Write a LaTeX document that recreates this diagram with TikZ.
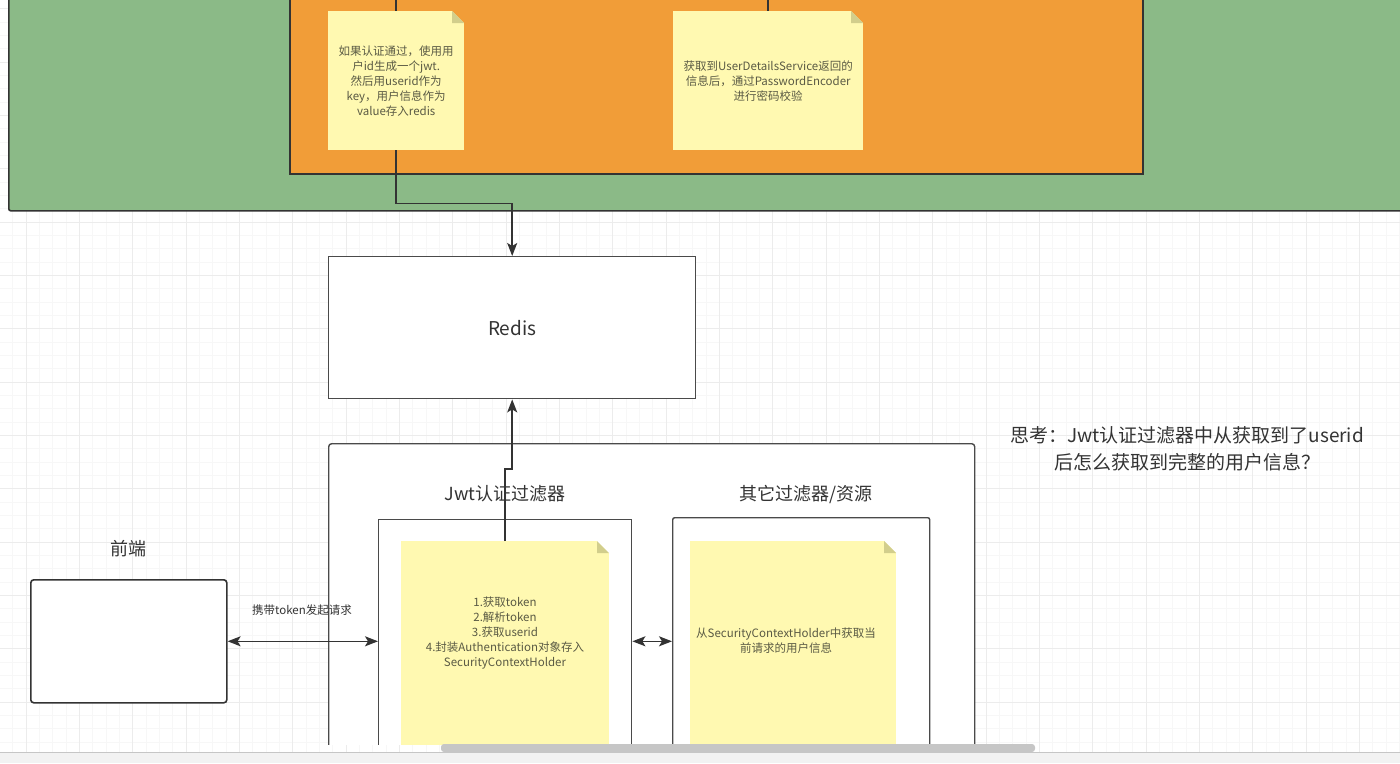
\documentclass[tikz,border=0pt]{standalone}
\usepackage{fontspec}
\setmainfont{Noto Sans CJK SC}
\usepackage{xcolor}
\usetikzlibrary{arrows.meta,positioning}

\definecolor{greenbg}{HTML}{8BBA87}
\definecolor{orangebg}{HTML}{F19D38}
\definecolor{notefill}{HTML}{FFF9B1}
\definecolor{notefold}{HTML}{D2CE8C}
\definecolor{notetext}{HTML}{5A5A44}
\definecolor{darkline}{HTML}{333333}
\definecolor{boxline}{HTML}{4A4A4A}
\definecolor{labeltext}{HTML}{333333}
\definecolor{gridminor}{HTML}{F7F7F7}
\definecolor{gridmajor}{HTML}{ECECEC}
\definecolor{scrollcol}{HTML}{C6C6C6}
\definecolor{stripcol}{HTML}{F2F2F2}

\begin{document}
\begin{tikzpicture}[x=1pt,y=-1pt]
  % Styles
  \tikzset{
    container/.style={rectangle, draw=darkline, line width=1.6pt, anchor=north west,
      inner sep=0pt, rounded corners=2pt},
    box/.style={rectangle, draw=boxline, line width=1.4pt, fill=white, anchor=north west,
      inner sep=0pt},
    note/.style={rectangle, fill=notefill, anchor=north west, inner sep=0pt, align=center,
      text=notetext, font=\fontsize{11.5}{15}\selectfont,
      path picture={
        \fill[#1] ([xshift=-12pt]path picture bounding box.north east)
          -- (path picture bounding box.north east)
          -- ([yshift=-12pt]path picture bounding box.north east) -- cycle;
        \fill[notefold] ([xshift=-12pt]path picture bounding box.north east)
          -- ([xshift=-12pt,yshift=-12pt]path picture bounding box.north east)
          -- ([yshift=-12pt]path picture bounding box.north east) -- cycle;}},
    notelabel/.style={align=center, text=notetext, font=\fontsize{11.5}{15}\selectfont},
    title/.style={text=labeltext, font=\fontsize{18}{22}\selectfont},
    small/.style={text=labeltext, font=\fontsize{11.5}{14}\selectfont},
    line/.style={draw=darkline, line width=1.5pt},
    arrow/.style={line, -{Stealth[length=13pt,width=10pt,inset=3pt]}},
    dblarrow/.style={line, {Stealth[length=13pt,width=10pt,inset=3pt]}-{Stealth[length=13pt,width=10pt,inset=3pt]}}
  }

  \useasboundingbox (0,0) rectangle (1400,763);

  % Grid
  \foreach \i in {0,...,106} {\draw[gridminor, line width=0.8pt] ({\i*13.333-0.67},0) -- ++(0,752);}
  \foreach \i in {0,...,57} {\draw[gridminor, line width=0.8pt] (0,{\i*13.333+8.67}) -- ++(1400,0);}
  \foreach \i in {0,...,26} {\draw[gridmajor, line width=0.8pt] ({\i*53.333+26},0) -- ++(0,752);}
  \foreach \i in {0,...,14} {\draw[gridmajor, line width=0.8pt] (0,{\i*53.333+8.67}) -- ++(1400,0);}

  \begin{scope}
    \clip (0,0) rectangle (1400,744);

    % Authentication area
    \node[container, fill=greenbg, minimum width=1430pt, minimum height=250pt] (authbox) at (8,-40) {};
    \node[container, fill=orangebg, rounded corners=0pt, minimum width=853pt, minimum height=213pt] (providerbox) at (289,-40) {};
    \node[note=orangebg, minimum width=136pt, minimum height=139pt] (jwtnote) at (328,11)
      {如果认证通过，使用用\\户id生成一个jwt.\\然后用userid作为\\key，用户信息作为\\value存入redis};
    \node[note=orangebg, minimum width=190pt, minimum height=139pt] (pwdnote) at (673,11)
      {获取到UserDetailsService返回的\\信息后，通过PasswordEncoder\\进行密码校验};
    \coordinate (jwtin) at (jwtnote.north |- 0,-5);
    \coordinate (pwdin) at (pwdnote.north |- 0,-5);
    \draw[line] (jwtin) -- (jwtnote.north);
    \draw[line] (pwdin) -- (pwdnote.north);

    % Redis
    \node[box, minimum width=367pt, minimum height=142pt, text=labeltext,
      font=\fontsize{19}{22}\selectfont] (redis) at (328,256) {Redis};
    \draw[arrow] (jwtnote.south) -- ++(0,53) -| (redis.north);

    % Filter chain
    \node[box, rounded corners=3pt, minimum width=646pt, minimum height=340pt] (chain) at (328,443) {};
    \node[title] (jwttitle) at (505,494) {Jwt认证过滤器};
    \node[title] (othertitle) at (806,494) {其它过滤器/资源};
    \node[box, minimum width=253pt, minimum height=260pt] (jwtfilter) at (378,519) {};
    \node[box, rounded corners=2pt, minimum width=257pt, minimum height=262pt] (otherfilter) at (672,517) {};
    \node[note=white, minimum width=208pt, minimum height=230pt] (stepsnote) at (401,541) {};
    \node[note=white, minimum width=206pt, minimum height=230pt] (usernote) at (690,541) {};
    \node[notelabel] (stepstext) at (505,633)
      {1.获取token\\2.解析token\\3.获取userid\\4.封装Authentication对象存入\\SecurityContextHolder};
    \node[notelabel] (usertext) at (786,641)
      {从SecurityContextHolder中获取当\\前请求的用户信息};
    \draw[arrow] (stepsnote.north) -- ++(0,-72) -| (redis.south);

    % Frontend
    \node[title] (frontlabel) at (128,549) {前端};
    \node[container, draw=darkline, fill=white, rounded corners=3pt, minimum width=196pt,
      minimum height=123pt] (frontend) at (30,579) {};
    \node[small] (reqlabel) at (302,610) {携带token发起请求};
    \draw[dblarrow] (frontend.east) -- (frontend.east -| jwtfilter.west);
    \draw[dblarrow] (frontend.east -| jwtfilter.east) -- (frontend.east -| otherfilter.west);

    % Question
    \node[title, align=center, font=\fontsize{19}{27}\selectfont] (question) at (1187,449)
      {思考：Jwt认证过滤器中从获取到了userid\\后怎么获取到完整的用户信息？};
  \end{scope}

  % Scroll bar
  \fill[scrollcol, rounded corners=3pt] (441,744) rectangle (1035,752);
  \fill[stripcol] (0,752) rectangle (1400,763);
  \draw[gray!45, line width=0.8pt] (0,752) -- (1400,752);

\end{tikzpicture}
\end{document}
